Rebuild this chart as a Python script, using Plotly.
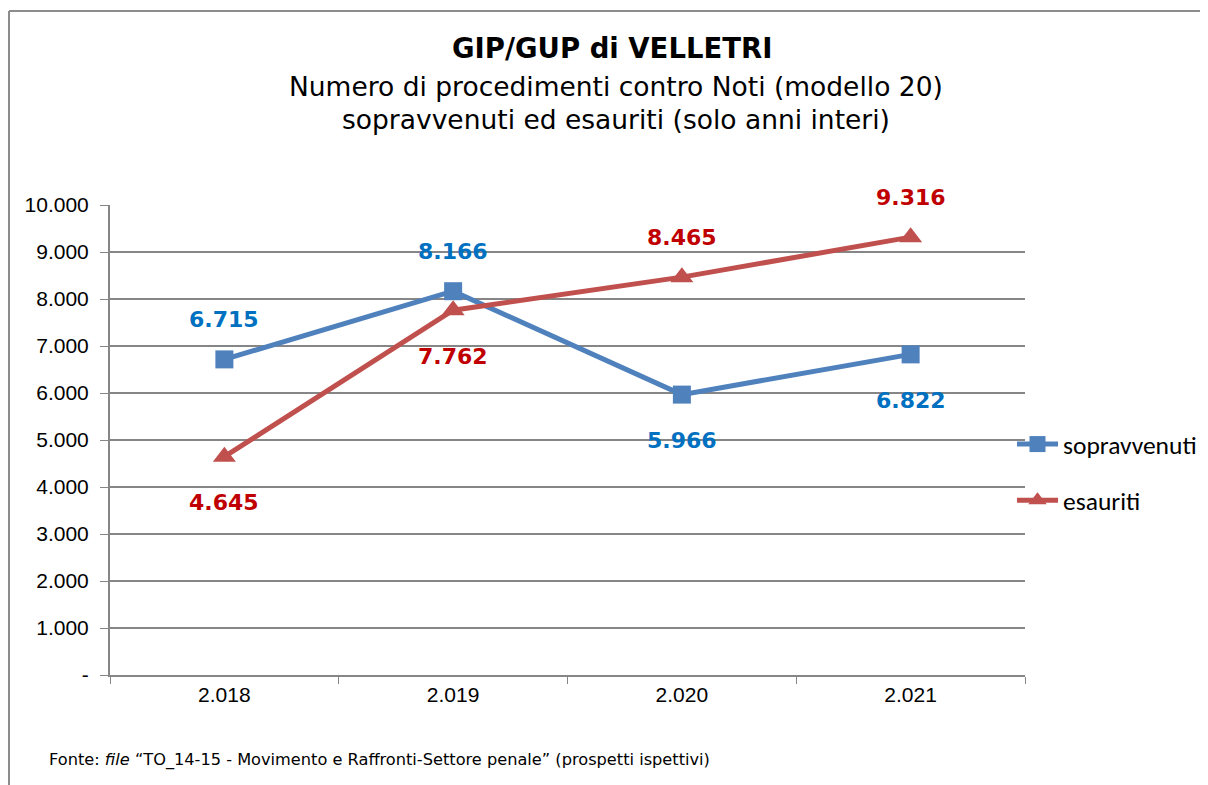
import plotly.graph_objects as go

years = ["2.018", "2.019", "2.020", "2.021"]
sopravvenuti = [6715, 8166, 5966, 6822]
esauriti = [4645, 7762, 8465, 9316]
sop_labels = ["6.715", "8.166", "5.966", "6.822"]
esa_labels = ["4.645", "7.762", "8.465", "9.316"]
sop_label_side = ["above", "above", "below", "below"]
esa_label_side = ["below", "below", "above", "above"]
y_tickvals = [0, 1000, 2000, 3000, 4000, 5000, 6000, 7000, 8000, 9000, 10000]
y_ticktext = ["-", "1.000", "2.000", "3.000", "4.000", "5.000", "6.000", "7.000", "8.000", "9.000", "10.000"]

BLUE = "#4F81BD"
RED = "#C0504D"
BLUE_TXT = "#0070C0"
RED_TXT = "#C00000"

fig = go.Figure()
fig.add_trace(go.Scatter(
    x=years, y=sopravvenuti, name="sopravvenuti", mode="lines+markers",
    line=dict(color=BLUE, width=5), marker=dict(symbol="square", size=18, color=BLUE),
    legendgroup="a"))
fig.add_trace(go.Scatter(
    x=years, y=esauriti, name="esauriti", mode="lines+markers",
    line=dict(color=RED, width=5), marker=dict(symbol="triangle-up", size=20, color=RED),
    legendgroup="b"))

annotations = []
for ys, labs, sides, col in [(sopravvenuti, sop_labels, sop_label_side, BLUE_TXT),
                              (esauriti, esa_labels, esa_label_side, RED_TXT)]:
    for i, (y, t, s) in enumerate(zip(ys, labs, sides)):
        annotations.append(dict(
            x=i, y=y, xref="x", yref="y", text="<b>%s</b>" % t, showarrow=False,
            font=dict(family="Verdana, DejaVu Sans", size=22, color=col),
            yshift=40 if s == "above" else -46))

# page offset: the page body adds 8px, so reference pixel p -> figure pixel p - 8
OFF = 8
title_font = "Verdana, DejaVu Sans"
page_texts = [
    dict(x=612, y=48, text="<b>GIP/GUP di VELLETRI</b>", size=27.5, xanchor="center"),
    dict(x=616, y=87, text="Numero di procedimenti contro Noti (modello 20)", size=26.5, xanchor="center"),
    dict(x=616, y=119, text="sopravvenuti ed esauriti (solo anni interi)", size=26.5, xanchor="center"),
    dict(x=47, y=760, text="Fonte: <i>file</i> \u201cTO_14-15 - Movimento e Raffronti-Settore penale\u201d (prospetti ispettivi)",
         size=16.2, xanchor="left"),
]

W, H = 1200, 777
L, R, T, B = 110 - OFF, 183, 205 - OFF, 110
pw, ph = W - L - R, H - T - B

def px(x):
    return (x - OFF - L) / pw

def py(y):
    return 1 - (y - OFF - T) / ph

for p in page_texts:
    annotations.append(dict(x=px(p["x"]), y=py(p["y"]), xref="paper", yref="paper",
                            xanchor=p["xanchor"], yanchor="middle", text=p["text"], showarrow=False,
                            font=dict(family=title_font, size=p["size"], color="#000")))

fig.update_layout(
    width=W, height=H,
    margin=dict(l=L, r=R, t=T, b=B, autoexpand=False),
    paper_bgcolor="white", plot_bgcolor="white",
    showlegend=True,
    legend=dict(x=px(1012), y=py(421), xanchor="left", yanchor="top",
                font=dict(family="Carlito, Calibri, Liberation Sans", size=25.5, color="#000"),
                tracegroupgap=20, traceorder="grouped", itemwidth=41,
                bgcolor="rgba(0,0,0,0)"),
    annotations=annotations,
    xaxis=dict(type="category", tickson="boundaries", ticks="outside", ticklen=7, tickcolor="#868686",
               showline=True, linecolor="#868686", linewidth=2, showgrid=False,
               tickfont=dict(family="Liberation Sans, Arial", size=21, color="#000"),
               range=[-0.5, 3.5]),
    yaxis=dict(range=[0, 10000], tickvals=y_tickvals, ticktext=y_ticktext,
               ticks="outside", ticklen=8, tickcolor="#868686", ticklabelstandoff=7,
               showline=True, linecolor="#868686", linewidth=2,
               showgrid=True, gridcolor="#868686", gridwidth=1.5, zeroline=False,
               tickfont=dict(family="Liberation Sans, Arial", size=21, color="#000")),
    shapes=[
        dict(type="line", xref="paper", yref="paper", x0=px(9), x1=px(1210),
             y0=py(11), y1=py(11), line=dict(color="#8C8C8C", width=2)),
        dict(type="line", xref="paper", yref="paper", x0=px(9), x1=px(9),
             y0=py(11), y1=py(790), line=dict(color="#8C8C8C", width=2)),
    ],
)

fig.write_html("out.html")
